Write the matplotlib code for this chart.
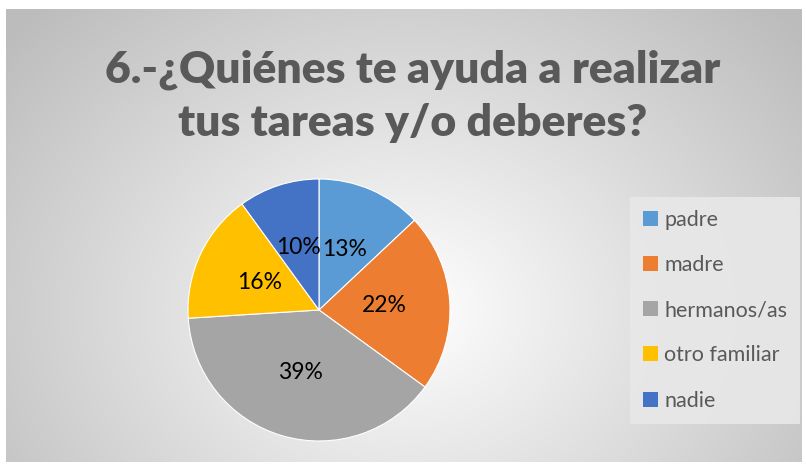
import numpy as np
import matplotlib.pyplot as plt
from matplotlib.patches import Patch

# Data
categorias = ['padre', 'madre', 'hermanos/as', 'otro familiar', 'nadie']
porcentajes = [13, 22, 39, 16, 10]
colores = ['#5B9BD5', '#ED7D31', '#A5A5A5', '#FFC000', '#4472C4']
titulo = '6.-¿Quiénes te ayuda a realizar\ntus tareas y/o deberes?'

plt.rcParams['font.family'] = ['Lato', 'DejaVu Sans']

W, H = 806, 466
fig = plt.figure(figsize=(W / 100, H / 100), dpi=100)
fig.patch.set_facecolor('white')

# Radial gradient background of the chart area
bg = fig.add_axes([6 / W, 4 / H, (802 - 6) / W, (466 - 9 - 4) / H])
yy, xx = np.mgrid[0:453, 0:796]
cx, cy = 400, 300
d = np.sqrt(((xx - cx) / 520) ** 2 + ((yy - cy) / 420) ** 2)
d = np.clip(d, 0, 1)
val = 1.0 - 0.26 * d
img = np.dstack([val, val, val])
bg.imshow(img, aspect='auto', interpolation='bilinear')
bg.set_axis_off()

# Pie
cxp, cyp, r = 319, 310, 131
ax = fig.add_axes([(cxp - r) / W, (H - cyp - r) / H, 2 * r / W, 2 * r / H])
wedges, texts, autotexts = ax.pie(
    porcentajes, colors=colores, startangle=90, counterclock=False,
    autopct='%d%%', pctdistance=0.5,
    wedgeprops=dict(edgecolor='white', linewidth=0.8),
    textprops=dict(color='black', fontsize=16.5))
ax.set_xlim(-1, 1)
ax.set_ylim(-1, 1)
ax.set_axis_off()

# Title
fig.text(413 / W, 1 - 96 / H, titulo, ha='center', va='center',
         fontsize=32, fontweight='heavy', color='#595959', linespacing=1.38)

# Legend
handles = [Patch(facecolor=c, edgecolor='none') for c in colores]
leg = fig.legend(handles, categorias, loc='upper left',
                 bbox_to_anchor=(630 / W, 1 - 197 / H), borderaxespad=0,
                 fontsize=15.5, labelcolor='#595959', frameon=True,
                 handlelength=0.7, handleheight=0.7, handletextpad=0.3,
                 labelspacing=1.17, borderpad=0.6, fancybox=False)
leg.get_frame().set_facecolor('#e8e8e8')
leg.get_frame().set_edgecolor('none')
leg.get_frame().set_alpha(0.9)

fig.savefig('out.png', dpi=100)
